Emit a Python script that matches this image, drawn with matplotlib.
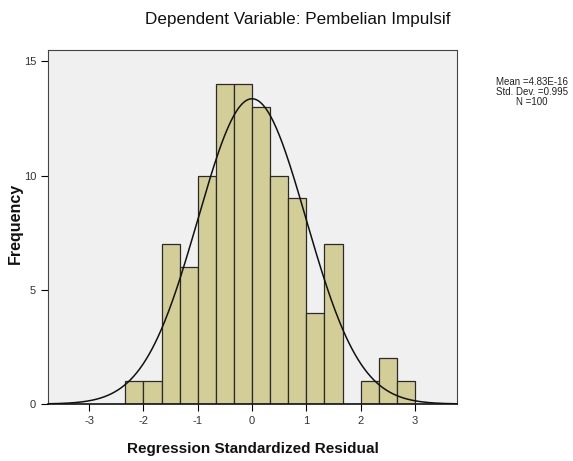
import numpy as np
import matplotlib.pyplot as plt

plt.rcParams['font.family'] = ['Liberation Sans', 'DejaVu Sans']
plt.rcParams['axes.unicode_minus'] = False

# histogram data (bin width 1/3)
bin_edges = np.arange(-7, 10) / 3.0
counts = [1, 1, 7, 6, 10, 14, 14, 13, 10, 9, 4, 7, 0, 1, 2, 1]
mean = 4.83e-16
std = 0.995
n = 100
x_ticks = [-3, -2, -1, 0, 1, 2, 3]
y_ticks = [0, 5, 10, 15]

fig = plt.figure(figsize=(5.73, 4.61), dpi=100)
ax = fig.add_axes([0.0838, 0.1236, 0.7138, 0.768])
ax.set_facecolor('#f0f0f0')

widths = np.diff(bin_edges)
ax.bar(bin_edges[:-1], counts, width=widths, align='edge',
       color='#d3ce97', edgecolor='#2a2a2a', linewidth=0.9)

# normal curve
xs = np.linspace(-3.8, 3.8, 400)
bw = widths[0]
ys = n * bw / (std * np.sqrt(2 * np.pi)) * np.exp(-0.5 * ((xs - mean) / std) ** 2)
ax.plot(xs, ys, color='#111111', linewidth=1.1)

ax.set_xlim(-3.757, 3.775)
ax.set_ylim(0, 15.5)
ax.set_xticks(x_ticks)
ax.set_yticks(y_ticks)
ax.tick_params(labelsize=8, labelcolor='#333333', length=5, width=0.8)
for s in ax.spines.values():
    s.set_color('#444444')
    s.set_linewidth(0.8)
ax.spines['bottom'].set_color('#111111')
ax.spines['bottom'].set_linewidth(1.2)

fig.text(0.52, 0.958, 'Dependent Variable: Pembelian Impulsif', ha='center', va='center',
         fontsize=12.3, color='#111111')
fig.text(0.442, 0.027, 'Regression Standardized Residual', ha='center', va='center',
         fontsize=11, fontweight='bold', color='#111111')
fig.text(0.027, 0.516, 'Frequency', ha='center', va='center', rotation=90,
         fontsize=11.5, fontweight='bold', color='#111111')
fig.text(0.928, 0.80, f'Mean =4.83E-16\nStd. Dev. =0.995\nN ={n}', ha='center', va='center',
         fontsize=7, color='#222222', linespacing=1.0)

fig.savefig('out.png', dpi=100)
